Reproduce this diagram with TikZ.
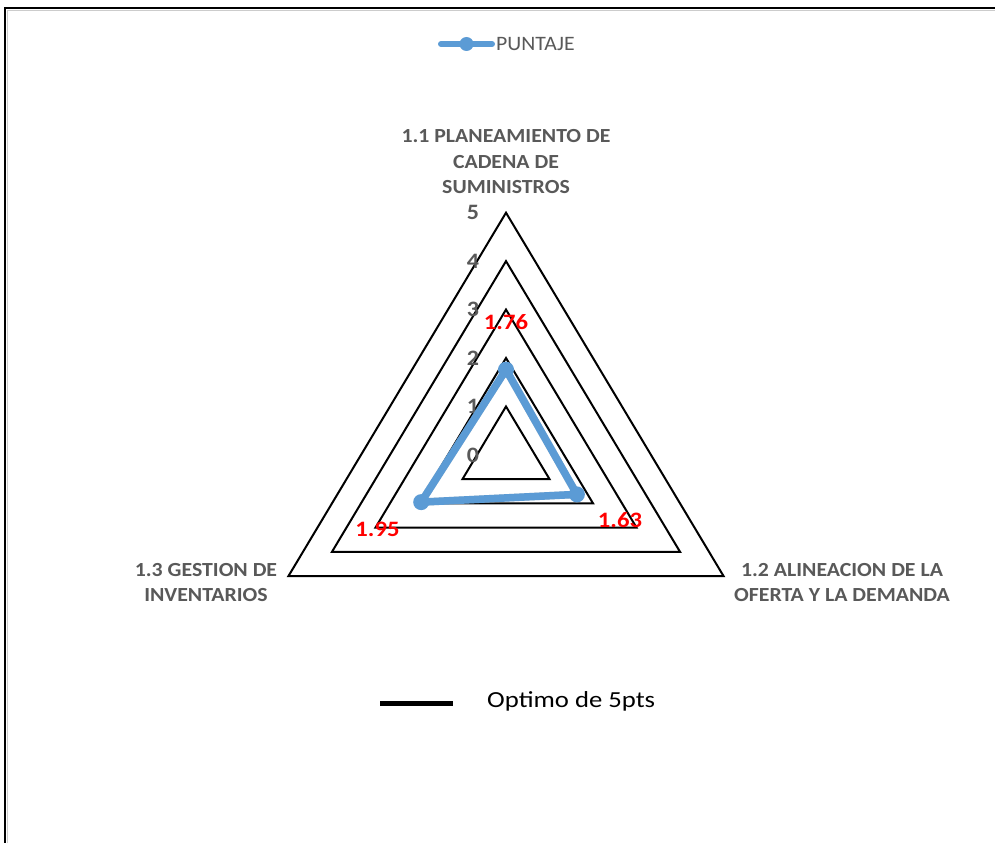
\documentclass[tikz,border=0pt]{standalone}
\usepackage{graphicx}
\usepackage{fontspec}
\setmainfont{Carlito}
\definecolor{series}{HTML}{5B9BD5}
\definecolor{labelgray}{HTML}{595959}
\definecolor{valred}{HTML}{FF0000}
% slightly widened lettering, as in the chart export
\newcommand\wtxt[2][1.09]{\scalebox{#1}[1]{#2}}
\begin{document}
\begin{tikzpicture}[x=1pt,y=-1pt,
  gridline/.style={draw=black,line width=2pt,line join=miter},
  seriesline/.style={draw=series,line width=7.5pt,line join=round,line cap=round},
  seriesshadow/.style={draw=black!35,opacity=0.45,line width=7.5pt,line join=round,line cap=round},
  marker/.style={circle,fill=series,inner sep=0pt,minimum size=16pt},
  ticklabel/.style={text=labelgray,font=\bfseries\fontsize{22}{25}\selectfont,inner sep=0pt},
  catlabel/.style={text=labelgray,font=\bfseries\fontsize{20}{25.5}\selectfont,align=center,inner sep=0pt},
  vallabel/.style={text=valred,font=\bfseries\fontsize{22}{24}\selectfont,inner sep=0pt},
  legendtext/.style={font=\fontsize{20.5}{24}\selectfont,inner sep=0pt,anchor=west}]
\useasboundingbox (0,0) rectangle (995,843);
\fill[white] (0,0) rectangle (995,843);

% outer frame with its soft shadow
\draw[black!20,line width=1.5pt] (995,10.5) -- (7.5,10.5) -- (7.5,843);
\draw[black,line width=2.3pt] (995,7.8) -- (5,7.8) -- (5,843);

% radial units along the three axes
\def\cx{506}\def\cy{454.9}
\def\uy{48.44}\def\bx{43.5}\def\by{24.22}

% grid triangles, levels 1..5
\foreach \r in {1,...,5}{
  \draw[gridline] (\cx,\cy-\uy*\r) -- (\cx+\bx*\r,\cy+\by*\r) -- (\cx-\bx*\r,\cy+\by*\r) -- cycle;
}

% scale labels
\foreach \r in {0,...,5}{
  \node[ticklabel] (tick\r) at (473,\cy-\uy*\r) {\wtxt{\r}};
}

% data points
\coordinate (d1) at (\cx,\cy-\uy*1.76);
\coordinate (d2) at (\cx+\bx*1.63,\cy+\by*1.63);
\coordinate (d3) at (\cx-\bx*1.95,\cy+\by*1.95);
\begin{scope}[shift={(2,3)}]
  \draw[seriesshadow] (d1) -- (d2) -- (d3) -- cycle;
\end{scope}
\draw[seriesline] (d1) -- (d2) -- (d3) -- cycle;
\node[marker] (m1) at (d1) {};
\node[marker] (m2) at (d2) {};
\node[marker] (m3) at (d3) {};

% value labels
\node[vallabel] (v1) at (506,322) {\wtxt[1.12]{1.76}};
\node[vallabel] (v2) at (620,520.5) {\wtxt[1.12]{1.63}};
\node[vallabel] (v3) at (377.5,529) {\wtxt[1.12]{1.95}};

% category labels
\node[catlabel] (c1) at (506,162) {\wtxt{1.1 PLANEAMIENTO DE}\\\wtxt{CADENA DE}\\\wtxt{SUMINISTROS}};
\node[catlabel] (c2) at (842,582.5) {\wtxt{1.2 ALINEACION DE LA}\\\wtxt{OFERTA Y LA DEMANDA}};
\node[catlabel] (c3) at (206,582.5) {\wtxt{1.3 GESTION DE}\\\wtxt{INVENTARIOS}};

% legend of the series
\coordinate (la) at (441,44);
\coordinate (lb) at (492,44);
\draw[draw=series,line width=6pt,line cap=round] (la) -- (lb);
\node[marker,minimum size=14pt] (lm) at (466.5,44) {};
\node[legendtext,text=labelgray] (lt) at (496,44) {\wtxt[1.06]{PUNTAJE}};

% legend of the optimum
\coordinate (oa) at (380,703);
\coordinate (ob) at (453,703);
\draw[black,line width=5pt] (oa) -- (ob);
\node[legendtext,text=black,font=\fontsize{23}{25}\selectfont] (ot) at (487,701) {\wtxt[1.16]{Optimo de 5pts}};
\end{tikzpicture}
\end{document}
